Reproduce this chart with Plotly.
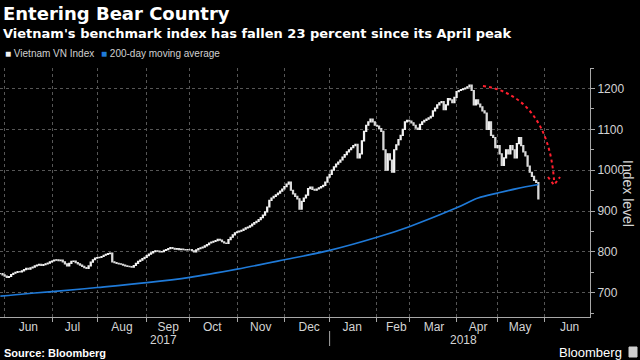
import pandas as pd
import plotly.graph_objects as go

# ---------------- data ----------------
holidays = ["2017-09-04", "2018-01-01", "2018-02-14", "2018-02-15", "2018-02-16",
            "2018-02-19", "2018-02-20", "2018-04-25", "2018-04-30", "2018-05-01"]

close_may17 = [747, 744]
close_jun17 = [741, 738, 740, 745, 748, 750, 752, 751, 754, 757, 760, 758, 761, 763, 766,
               768, 770, 767, 769, 771, 773, 776]
close_jul17 = [778, 780, 781, 779, 780, 776, 771, 766, 772, 777, 778, 774, 771, 768, 765,
               762, 760, 766, 775, 781, 785]
close_aug17 = [786, 787, 789, 792, 794, 796, 797, 776, 774, 772, 771, 770, 768, 766, 765,
               764, 763, 767, 772, 777, 780, 784, 787]
close_sep17 = [791, 795, 798, 801, 803, 802, 800, 801, 804, 806, 808, 811, 809, 807, 808,
               806, 807, 806, 805, 806]
close_oct17 = [806, 803, 800, 805, 808, 810, 812, 815, 818, 822, 824, 826, 828, 831, 829,
               825, 822, 821, 830, 836, 842, 847]
close_nov17 = [849, 851, 853, 856, 859, 861, 864, 868, 872, 875, 879, 884, 890, 898, 910,
               926, 932, 936, 940, 944, 949, 954]
close_dec17 = [960, 966, 971, 951, 942, 936, 930, 905, 924, 932, 939, 955, 959, 953, 951,
               954, 957, 960, 963, 971, 983]
close_jan18 = [990, 1000, 1008, 1015, 1020, 1025, 1032, 1038, 1045, 1050, 1055, 1060, 1063,
               1030, 1040, 1072, 1095, 1110, 1118, 1125, 1118, 1110]
close_feb18 = [1108, 1102, 1095, 1050, 1000, 1040, 1025, 995, 1050, 1062, 1075, 1085, 1100,
               1118, 1122]
close_mar18 = [1120, 1116, 1110, 1103, 1100, 1112, 1118, 1122, 1125, 1128, 1132, 1145, 1152,
               1160, 1165, 1168, 1148, 1160, 1175, 1172, 1165, 1178]
close_apr18 = [1192, 1195, 1197, 1199, 1201, 1204, 1208, 1195, 1160, 1172, 1162, 1155, 1145,
               1140, 1100, 1118, 1085, 1080, 1055]
close_may18 = [1060, 1040, 1012, 1030, 1050, 1040, 1060, 1050, 1030, 1065, 1080, 1060, 1045,
               1035, 1010, 995, 985, 975, 970, 930]

ma_dates = ["2017-05-30", "2017-06-15", "2017-07-03", "2017-08-01", "2017-09-01",
            "2017-10-02", "2017-11-01", "2017-12-01", "2018-01-02", "2018-02-01",
            "2018-03-01", "2018-04-02", "2018-04-16", "2018-05-02", "2018-05-15",
            "2018-05-29"]
ma_values = [692, 698, 703, 713, 725, 738, 758, 781, 804, 836, 862, 908, 932, 944, 955, 965]

y_ticks = [700, 800, 900, 1000, 1100, 1200]

# ---------------- build ----------------
closes = (close_may17 + close_jun17 + close_jul17 + close_aug17 + close_sep17 + close_oct17 +
          close_nov17 + close_dec17 + close_jan18 + close_feb18 + close_mar18 + close_apr18 +
          close_may18)
dates = [d for d in pd.bdate_range("2017-05-30", "2018-05-29")
         if d.strftime("%Y-%m-%d") not in holidays]
assert len(dates) == len(closes), (len(dates), len(closes))
opens = [closes[0]] + closes[:-1]
highs = [max(o, c) for o, c in zip(opens, closes)]
lows = [min(o, c) for o, c in zip(opens, closes)]

W, H = 640, 360
ML, MR, MT, MB = 0, 50, 68, 43
PW, PH = W - ML - MR, H - MT - MB


def px(x):
    return (x - ML) / PW


def py(y):
    return (H - MB - y) / PH


fig = go.Figure()
fig.add_trace(go.Candlestick(
    x=dates, open=opens, high=highs, low=lows, close=closes,
    increasing=dict(line=dict(color="#f2f2f2", width=1.2), fillcolor="#f2f2f2"),
    decreasing=dict(line=dict(color="#d9d9d9", width=1.2), fillcolor="#bdbdbd"),
    whiskerwidth=0, name="Vietnam VN Index", showlegend=False, hoverinfo="skip"))
fig.add_trace(go.Scatter(
    x=ma_dates, y=ma_values, mode="lines", line=dict(color="#1f7ad8", width=1.6, shape="spline"),
    name="200-day moving average", showlegend=False, hoverinfo="skip"))

tick_font = dict(family="Liberation Sans, Arial, sans-serif", size=12, color="#d4d4d4")
fig.update_xaxes(
    type="date", range=["2017-05-29 20:00", "2018-07-02"],
    rangebreaks=[dict(bounds=["sat", "mon"]), dict(values=holidays)],
    dtick="M1", tick0="2017-06-01", tickformat="%b", ticklabelmode="period",
    ticks="outside", ticklen=4, tickcolor="#a8a8a8", ticklabelstandoff=-5,
    showline=True, linecolor="#a8a8a8", linewidth=1,
    showgrid=True, gridcolor="#565656", griddash="dot", gridwidth=1,
    tickfont=tick_font, rangeslider=dict(visible=False), zeroline=False)
fig.update_yaxes(
    side="right", range=[641, 1250], tickvals=y_ticks,
    ticks="outside", ticklen=4, tickcolor="#a8a8a8",
    minor=dict(dtick=50, tick0=650, ticks="outside", ticklen=3, tickcolor="#a8a8a8", showgrid=False),
    showline=True, linecolor="#a8a8a8", linewidth=1,
    showgrid=True, gridcolor="#565656", griddash="dot", gridwidth=1,
    tickfont=tick_font, zeroline=False)

ann = []
ann.append(dict(text="<b>Entering Bear Country</b>", x=px(1), y=py(14), xanchor="left", yanchor="middle",
                font=dict(family="DejaVu Sans", size=18, color="#ffffff")))
ann.append(dict(text="<b>Vietnam's benchmark index has fallen 23 percent since its April peak</b>",
                x=px(1), y=py(33), xanchor="left", yanchor="middle",
                font=dict(family="DejaVu Sans", size=13, color="#ffffff")))
leg_font = dict(family="Liberation Sans, Arial, sans-serif", size=10, color="#d0d0d0")
ann.append(dict(text="<span style='color:#f2f2f2'>■</span> Vietnam VN Index", x=px(3), y=py(54),
                xanchor="left", yanchor="middle", font=leg_font))
ann.append(dict(text="<span style='color:#1f7ad8'>■</span> 200-day moving average", x=px(99), y=py(54),
                xanchor="left", yanchor="middle", font=leg_font))
ann.append(dict(text="Index level", x=px(628), y=py(193), xanchor="center", yanchor="middle",
                textangle=90, font=dict(family="Liberation Sans, Arial, sans-serif", size=14, color="#d4d4d4")))
ann.append(dict(text="2017", x="2017-09-14", xref="x", y=py(340), xanchor="center", yanchor="middle",
                font=tick_font))
ann.append(dict(text="2018", x="2018-04-05", xref="x", y=py(340), xanchor="center", yanchor="middle",
                font=tick_font))
ann.append(dict(text="<b>Source: Bloomberg</b>", x=px(2), y=py(353), xanchor="left", yanchor="middle",
                font=dict(family="Liberation Sans, Arial, sans-serif", size=11, color="#ffffff")))
ann.append(dict(text="Bloomberg", x=px(624), y=py(352), xanchor="right", yanchor="middle",
                font=dict(family="Liberation Sans, Arial, sans-serif", size=13, color="#ffffff")))
for a in ann:
    a.setdefault("xref", "paper")
    a["yref"] = "paper"
    a["showarrow"] = False
fig.update_layout(annotations=ann)

# decorative curved arrow (paper coordinates)
pts = [(483, 86), (525, 92), (550, 125), (554, 180)]
p = [(px(a), py(b)) for a, b in pts]
path = "M {:.4f},{:.4f} C {:.4f},{:.4f} {:.4f},{:.4f} {:.4f},{:.4f}".format(*[v for q in p for v in q])
head = [(548, 177), (554, 185), (560, 177)]
h = [(px(a), py(b)) for a, b in head]
hpath = "M {:.4f},{:.4f} L {:.4f},{:.4f} L {:.4f},{:.4f}".format(*[v for q in h for v in q])
shapes = [
    dict(type="path", path=path, xref="paper", yref="paper", line=dict(color="#ff1f2e", width=2, dash="dot")),
    dict(type="path", path=hpath, xref="paper", yref="paper", line=dict(color="#ff1f2e", width=2, dash="dot")),
    dict(type="line", x0="2018-01-02", x1="2018-01-02", xref="x", y0=py(331), y1=py(346), yref="paper",
         line=dict(color="#a8a8a8", width=1)),
    dict(type="rect", x0=px(629), x1=px(637), y0=py(357), y1=py(347), xref="paper", yref="paper",
         line=dict(color="#cfcfcf", width=1), fillcolor="#cfcfcf"),
]
fig.update_layout(shapes=shapes)

fig.update_layout(
    width=W, height=H, margin=dict(l=ML, r=MR, t=MT, b=MB, autoexpand=False),
    paper_bgcolor="#000000", plot_bgcolor="#000000", showlegend=False,
)
fig.write_html("out.html", config={"displayModeBar": False},
               post_script="document.body.style.margin='0';document.body.style.background='#000';")
